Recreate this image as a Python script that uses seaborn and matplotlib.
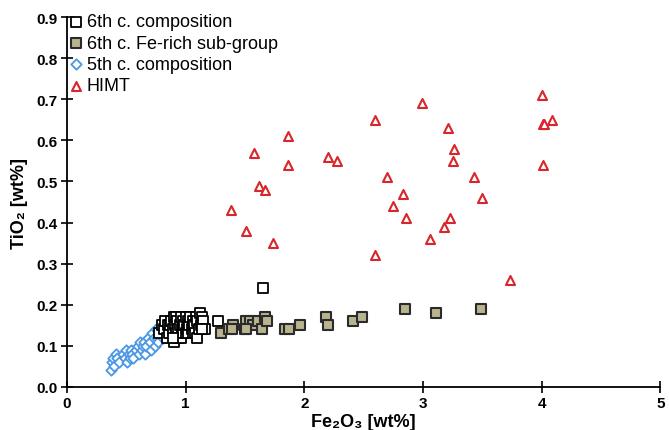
import matplotlib
matplotlib.use('Agg')
import matplotlib.pyplot as plt
import pandas as pd
import seaborn as sns

# 6th c. composition (open black squares)
c6_fe = [0.78, 0.80, 0.82, 0.83, 0.84, 0.85, 0.86, 0.87, 0.88, 0.89, 0.90, 0.90, 0.91, 0.92,
         0.92, 0.93, 0.94, 0.94, 0.95, 0.96, 0.96, 0.97, 0.98, 0.98, 0.99, 1.00, 1.00, 1.01,
         1.02, 1.02, 1.03, 1.04, 1.05, 1.06, 1.06, 1.07, 1.08, 1.09, 1.10, 1.10, 1.11, 1.12,
         1.13, 1.14, 1.15, 1.16, 1.14, 0.89, 1.27, 1.65]
c6_ti = [0.13, 0.15, 0.14, 0.16, 0.12, 0.15, 0.13, 0.15, 0.16, 0.14, 0.11, 0.17, 0.15, 0.13,
         0.17, 0.16, 0.14, 0.12, 0.15, 0.12, 0.17, 0.14, 0.16, 0.13, 0.15, 0.13, 0.17, 0.14,
         0.16, 0.13, 0.15, 0.17, 0.14, 0.16, 0.13, 0.15, 0.13, 0.17, 0.16, 0.12, 0.14, 0.18,
         0.15, 0.17, 0.16, 0.14, 0.14, 0.12, 0.16, 0.24]

# 6th c. Fe-rich sub-group (filled olive squares)
fe_rich_fe = [1.30, 1.37, 1.40, 1.39, 1.50, 1.51, 1.54, 1.57, 1.51, 1.61, 1.64, 1.67, 1.69,
              1.84, 1.87, 1.96, 2.18, 2.20, 2.41, 2.49, 2.85, 3.11, 3.49]
fe_rich_ti = [0.13, 0.14, 0.15, 0.14, 0.14, 0.16, 0.16, 0.15, 0.14, 0.16, 0.14, 0.17, 0.16,
              0.14, 0.14, 0.15, 0.17, 0.15, 0.16, 0.17, 0.19, 0.18, 0.19]

# 5th c. composition (blue diamonds)
c5_fe = [0.37, 0.38, 0.39, 0.40, 0.41, 0.42, 0.44, 0.47, 0.49, 0.50, 0.51, 0.52, 0.53, 0.54,
         0.55, 0.56, 0.58, 0.60, 0.61, 0.62, 0.63, 0.64, 0.65, 0.66, 0.67, 0.68, 0.70, 0.71,
         0.72, 0.73, 0.74, 0.75, 0.76, 0.77, 0.78, 0.80, 0.81, 0.83, 0.84, 0.86, 0.88]
c5_ti = [0.04, 0.06, 0.07, 0.05, 0.08, 0.07, 0.06, 0.08, 0.07, 0.09, 0.06, 0.08, 0.07, 0.09,
         0.08, 0.07, 0.09, 0.10, 0.08, 0.11, 0.09, 0.10, 0.11, 0.08, 0.10, 0.12, 0.11, 0.09,
         0.13, 0.12, 0.10, 0.14, 0.12, 0.11, 0.13, 0.14, 0.12, 0.15, 0.13, 0.14, 0.15]

# HIMT (red triangles)
himt_fe = [1.38, 1.51, 1.58, 1.62, 1.67, 1.74, 1.86, 1.86, 2.20, 2.28, 2.60, 2.60, 2.70, 2.75,
           2.83, 2.86, 2.99, 3.06, 3.18, 3.21, 3.23, 3.25, 3.26, 3.43, 3.50, 3.73, 4.00, 4.01,
           4.02, 4.01, 4.09]
himt_ti = [0.43, 0.38, 0.57, 0.49, 0.48, 0.35, 0.61, 0.54, 0.56, 0.55, 0.65, 0.32, 0.51, 0.44,
           0.47, 0.41, 0.69, 0.36, 0.39, 0.63, 0.41, 0.55, 0.58, 0.51, 0.46, 0.26, 0.71, 0.64,
           0.64, 0.54, 0.65]

sns.set_style('white')
plt.rcParams['font.family'] = ['Liberation Sans', 'DejaVu Sans']
plt.rcParams['text.color'] = 'black'
plt.rcParams['axes.labelcolor'] = 'black'

fig = plt.figure(figsize=(6.69, 4.31), dpi=100)
ax = fig.add_axes([0.100, 0.100, 0.887, 0.858])

sns.scatterplot(x=c6_fe, y=c6_ti, ax=ax, marker='s', s=42, facecolor='white',
                edgecolor='black', linewidth=1.3, label='6th c. composition', zorder=3)
sns.scatterplot(x=fe_rich_fe, y=fe_rich_ti, ax=ax, marker='s', s=42, color='#b9b48f',
                edgecolor='#2b2b2b', linewidth=1.5, label='6th c. Fe-rich sub-group', zorder=3)
sns.scatterplot(x=c5_fe, y=c5_ti, ax=ax, marker='D', s=28, facecolor='white',
                edgecolor='#4b97e6', linewidth=1.3, label='5th c. composition', zorder=2)
sns.scatterplot(x=himt_fe, y=himt_ti, ax=ax, marker='^', s=42, facecolor='white',
                edgecolor='#d8262b', linewidth=1.5, label='HIMT', zorder=3)

ax.set_xlim(0, 5)
ax.set_ylim(0, 0.9)
ax.set_xticks([0, 1, 2, 3, 4, 5])
ax.set_yticks([i / 10 for i in range(10)])
ax.set_yticklabels([f'{i / 10:.1f}' for i in range(10)])
ax.tick_params(bottom=True, left=True, direction='inout', length=9, width=1.2,
               colors='black', labelsize=11, pad=2)
for lab in ax.get_xticklabels() + ax.get_yticklabels():
    lab.set_fontweight('bold')

sns.despine(ax=ax)
for side in ['left', 'bottom']:
    ax.spines[side].set_color('black')
    ax.spines[side].set_linewidth(1.3)

ax.set_xlabel('Fe\u2082O\u2083 [wt%]', fontsize=13, fontweight='bold', labelpad=2)
ax.set_ylabel('TiO\u2082 [wt%]', fontsize=13, fontweight='bold', labelpad=6)

leg = ax.legend(loc='upper left', bbox_to_anchor=(0.0, 1.015), frameon=False, fontsize=13,
                handletextpad=0.2, handlelength=0.8, borderaxespad=0.1,
                labelspacing=0.24, borderpad=0.0)

fig.savefig('out.png', dpi=100)
